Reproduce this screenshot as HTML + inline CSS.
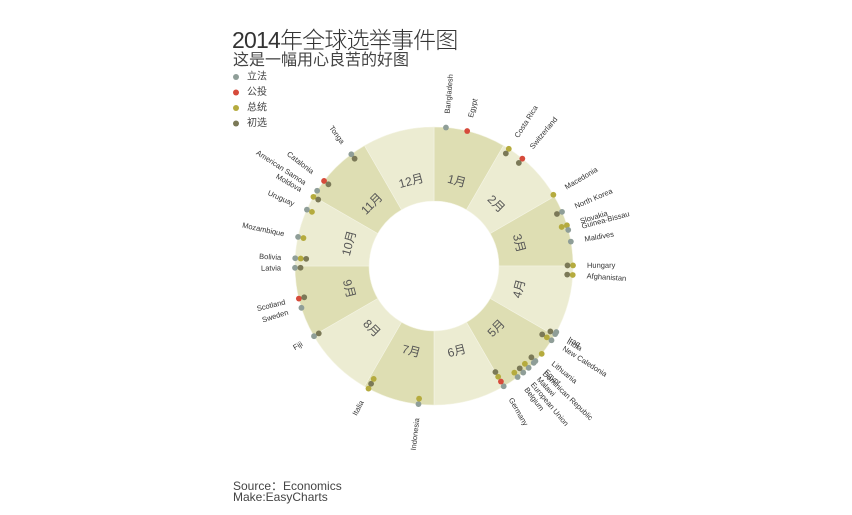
<!DOCTYPE html>
<html><head><meta charset="utf-8">
<style>
html,body{margin:0;padding:0;background:#fff;}
body{width:852px;height:515px;overflow:hidden;position:relative;font-family:"Liberation Sans","Noto Sans CJK SC",sans-serif;}
.t{position:absolute;color:#333;white-space:nowrap;}
</style></head>
<body>
<div class="t" style="left:232px;top:21px;font-size:23px;font-weight:300;letter-spacing:-0.8px;">2014年全球选举事件图</div>
<div class="t" style="left:233px;top:46px;font-size:16px;color:#444;">这是一幅用心良苦的好图</div>
<div class="t" style="left:233px;top:477px;font-size:12px;color:#444;">Source：Economics</div>
<div class="t" style="left:233px;top:490px;font-size:12px;color:#444;">Make:EasyCharts</div>
<svg id="chart" width="852" height="515" style="position:absolute;left:0;top:0;font-family:'Liberation Sans','Noto Sans CJK SC',sans-serif;"></svg>
<script>
const monthLabels = ["1月","2月","3月","4月","5月","6月","7月","8月","9月","10月","11月","12月"];
const typeNames = ["立法","公投","总统","初选"];
const typeColors = ["#8f9e98","#d64b3b","#b5ab3e","#7b7957"];
const eventCountries = ["Bangladesh","Egypt","Costa Rica","Switzerland","Macedonia","North Korea","Slovakia","Guinea-Bissau","Maldives","Hungary","Afghanistan","Iraq","India","New Caledonia","Lithuania","Egypt","Dominican Republic","Malawi","European Union","Belgium","Germany","Indonesia","Italia","Fiji","Sweden","Scotland","Latvia","Bolivia","Mozambique","Uruguay","Moldova","American Samoa","Catalonia","Tonga"];
const eventDays = [5,14,33,40,60,68,74,76,81,91,95,120,121,124,131,135,136,139,142,145,152,189,211,243,256,260,273,277,286,298,304,307,312,328];
const eventTypes = [[0],[1],[2,3],[1,3],[2],[0,3],[2,2],[0],[0],[2,3],[2,3],[0],[0,3],[0,2,3],[2],[0,3],[0],[0,2],[0,3],[0,2],[0,1,2,3],[0,2],[2,3,2],[0,3],[0],[1,3],[0,3],[0,2,3],[0,2],[0,2],[2,3],[0],[1,3],[0,3]];

const NS="http://www.w3.org/2000/svg";
const svg=document.getElementById('chart');
const cx=434, cy=266, r0=65, r1=139;
function angleOfDay(d){return -90 + d/365*360;}
function pt(a,r){const t=a*Math.PI/180;return [cx+r*Math.cos(t), cy+r*Math.sin(t)];}
function mk(tag,attrs){const e=document.createElementNS(NS,tag);for(const k in attrs)e.setAttribute(k,attrs[k]);return e;}

monthLabels.forEach((m,i)=>{
  const a0=-90+i*30, a1=a0+30;
  const p0=pt(a0,r1),p1=pt(a1,r1),p2=pt(a1,r0),p3=pt(a0,r0);
  const d=`M${p0[0]},${p0[1]}A${r1},${r1} 0 0 1 ${p1[0]},${p1[1]}L${p2[0]},${p2[1]}A${r0},${r0} 0 0 0 ${p3[0]},${p3[1]}Z`;
  const s=mk('path',{d:d,fill:i%2===0?'#dedeb3':'#ececd2',stroke:'#f4f4e4','stroke-width':0.6});
  
  
  svg.appendChild(s);
  const am=a0+15; const c=pt(am,88);
  let rot=am+90; if(rot>90&&rot<270) rot-=180;
  const t=mk('text',{x:c[0],y:c[1],'text-anchor':'middle','dominant-baseline':'central','font-size':12,fill:'#555',transform:`rotate(${rot} ${c[0]} ${c[1]})`});
  t.textContent=m;
  
  
  svg.appendChild(t);
});

eventCountries.forEach((name,i)=>{
  const a=angleOfDay(eventDays[i]);
  eventTypes[i].forEach((ty,j)=>{
    const p=pt(a,r1-j*5.5);
    const c=mk('circle',{cx:p[0],cy:p[1],r:2.9,fill:typeColors[ty]});
    
    
    svg.appendChild(c);
  });
  const lp=pt(a,153);
  const right=(a>-90&&a<=90);
  const rot=right?a:a-180;
  const t=mk('text',{x:lp[0],y:lp[1],'text-anchor':right?'start':'end','dominant-baseline':'central','font-size':7.5,fill:'#333',transform:`rotate(${rot} ${lp[0]} ${lp[1]})`});
  t.textContent=name;
  
  
  svg.appendChild(t);
});

typeNames.forEach((n,i)=>{
  const y=77+i*15.5;
  const c=mk('circle',{cx:236,cy:y,r:3,fill:typeColors[i]});
  
  
  svg.appendChild(c);
  const t=mk('text',{x:247,y:y,'dominant-baseline':'central','font-size':10,fill:'#444'});
  t.textContent=n;
  
  
  svg.appendChild(t);
});
</script>
</body></html>
